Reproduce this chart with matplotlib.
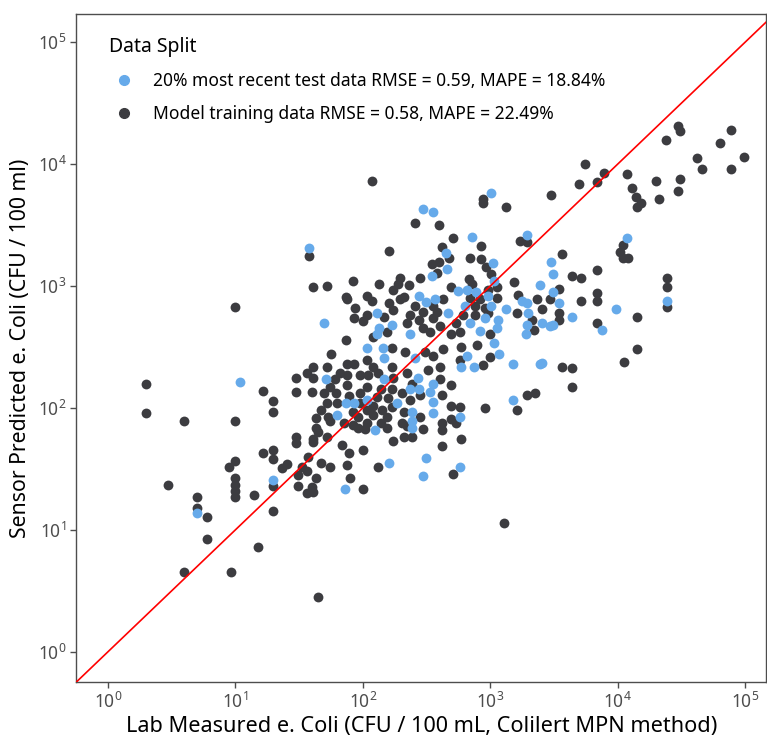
import numpy as np
import matplotlib
matplotlib.use("Agg")
from matplotlib import pyplot as plt
from matplotlib.lines import Line2D

plt.rcParams['font.family'] = ['Noto Sans', 'DejaVu Sans']
plt.rcParams['mathtext.default'] = 'regular'

# log10 values: lab measured (x) and sensor predicted (y)
test_log_lab = [1.04, 0.70, 1.58, 1.70, 2.11, 2.13, 2.23, 2.11,
                2.03, 2.16, 2.17, 1.71, 2.17, 2.03, 2.27, 1.87, 1.93, 1.80, 2.10, 2.21, 1.30,
                2.47, 2.55, 2.86, 3.29, 2.65, 3.02, 2.66, 2.54, 3.03, 2.75, 2.82, 2.89, 2.44,
                2.57, 2.50, 2.98, 3.25, 3.29, 2.80, 3.01, 3.12, 2.67, 3.30, 2.96, 3.06, 2.84,
                3.29, 2.92, 3.05, 2.37, 3.28,
                3.03, 3.07, 2.82, 2.41, 2.77, 2.87, 3.18, 3.39, 2.43, 2.55, 2.37, 2.44, 2.53,
                3.18, 2.55, 2.39, 2.55, 2.76, 2.39, 2.39, 2.50, 2.76, 2.47,
                4.07, 3.48, 3.49, 3.39, 3.49, 3.54, 4.39, 3.99,
                3.41, 3.47, 3.49, 3.64, 3.88, 3.41, 3.01, 1.86]
test_log_pred = [2.21, 1.14, 3.31, 2.70, 2.78, 2.66, 2.68, 2.61,
                 2.49, 2.49, 2.41, 2.24, 2.24, 2.07, 2.04, 2.04, 2.04, 1.94, 1.82, 1.55, 1.41,
                 3.63, 3.61, 3.40, 3.42, 3.27, 3.19, 3.14, 3.08, 3.04, 2.96, 2.97, 2.95, 2.92,
                 2.89, 2.87, 2.92, 2.88, 2.86, 2.84, 2.84, 2.81, 2.78, 2.78, 2.74, 2.72, 2.70,
                 2.68, 2.63, 2.66, 2.61, 2.61,
                 2.53, 2.44, 2.43, 2.41, 2.34, 2.34, 2.36, 2.36, 2.25, 2.20, 2.16, 2.16, 2.13,
                 2.07, 2.05, 1.97, 1.96, 1.93, 1.89, 1.84, 1.59, 1.52, 1.44,
                 3.39, 3.20, 3.10, 3.01, 2.95, 2.86, 2.88, 2.81,
                 2.70, 2.67, 2.68, 2.75, 2.64, 2.37, 3.76, 1.34]

train_log_lab = [0.30, 0.30, 1.22, 0.60, 1.00, 1.22, 1.00, 0.95, 1.00, 1.00, 1.00, 1.00,
                 0.47, 1.15, 0.70, 0.70, 0.78, 0.78, 1.18, 0.60, 0.97, 1.00, 1.65, 3.11,
                 1.58, 2.21, 1.61, 1.72, 1.92, 2.13, 2.28, 2.24, 1.87, 1.88, 2.03, 2.07,
                 1.94, 2.21, 2.29, 2.03, 1.93, 2.00, 2.17, 2.24, 2.19, 2.08, 1.87,
                 2.23, 1.75, 2.03, 2.08, 1.61, 1.72, 1.88, 1.93, 2.23, 1.56, 1.48, 1.61,
                 1.82, 1.78, 1.88, 1.98, 2.04, 2.12, 2.24, 1.74, 1.88, 2.03, 2.14, 2.23,
                 1.48, 1.60, 1.70, 1.79, 1.89, 1.98, 2.11, 2.20, 1.30, 1.80, 1.72, 1.98,
                 2.08, 2.23, 1.67, 1.30, 1.92, 2.03, 2.15, 1.73, 1.63, 1.96, 2.08, 2.19,
                 1.74, 1.85, 1.92, 2.03, 2.14, 1.63, 1.96, 2.02, 1.65, 2.19, 1.48, 1.61,
                 1.72, 1.48, 1.61, 2.24, 1.84, 1.30, 1.89, 2.00, 1.57, 1.30, 1.67, 1.74,
                 1.88, 2.12, 1.41, 1.37, 1.52, 1.56, 1.49, 1.63, 1.90,
                 2.94, 3.12, 2.41, 2.60, 2.71, 3.23, 3.29, 2.93, 2.62, 2.68, 2.60, 2.84,
                 2.93, 2.54, 2.97, 2.58, 3.01, 2.45, 2.29, 2.83, 3.19, 3.05, 2.86, 2.36,
                 2.69, 2.98, 3.22, 2.32, 2.63, 2.84, 2.92, 3.05, 3.37, 2.41, 2.55, 2.88,
                 2.96, 2.37, 2.47, 2.58, 2.79, 2.88, 2.98, 3.21, 2.35, 2.44, 2.55, 2.73,
                 3.33, 2.61, 2.47, 2.53, 2.69, 2.76, 3.00, 3.34,
                 2.77, 2.90, 3.00, 2.63, 2.55, 2.33, 2.49, 2.76, 2.94, 2.61, 2.51, 2.35,
                 2.61, 2.39, 2.69, 2.31, 2.45, 2.62, 3.29, 3.35, 2.37, 2.69, 2.76, 2.96,
                 3.21, 2.32, 2.45, 2.69, 2.73, 2.31, 2.62, 2.35, 2.47, 2.62, 2.32, 2.39,
                 2.77, 2.62, 2.71,
                 3.48, 3.74, 3.70, 3.84, 3.89, 4.07, 4.11, 4.14, 4.18, 4.15, 4.30, 4.32,
                 4.38, 4.47, 4.49, 4.47, 4.49, 4.62, 4.66, 4.80, 4.89, 4.89, 4.99, 4.04,
                 4.02, 4.04, 4.08, 3.56, 3.64, 3.71, 3.84, 3.54, 3.84, 3.47, 3.71, 3.84,
                 4.39, 4.39, 4.39,
                 3.41, 3.54, 3.54, 4.15, 3.84, 4.15, 4.05, 3.56, 3.64, 3.64,
                 2.07, 2.94,
                 1.30, 1.49, 1.56, 1.60, 1.61, 2.00, 1.30]
train_log_pred = [2.20, 1.96, 2.14, 1.89, 1.89, 1.63, 1.57, 1.52, 1.43, 1.37, 1.32, 1.27,
                  1.37, 1.29, 1.27, 1.18, 1.11, 0.93, 0.86, 0.66, 0.66, 2.83, 0.45, 1.06,
                  3.25, 3.29, 2.99, 3.00, 3.04, 3.02, 3.02, 2.97, 2.91, 2.89, 2.92, 2.88,
                  2.82, 2.86, 2.89, 2.76, 2.74, 2.71, 2.75, 2.80, 2.62, 2.58, 2.56,
                  2.49, 2.44, 2.39, 2.34, 2.34, 2.34, 2.36, 2.36, 2.34, 2.29, 2.25, 2.25,
                  2.29, 2.24, 2.27, 2.27, 2.27, 2.29, 2.25, 2.17, 2.19, 2.17, 2.16, 2.16,
                  2.13, 2.13, 2.12, 2.12, 2.10, 2.12, 2.09, 2.08, 2.06, 2.04, 2.04, 2.04,
                  2.02, 2.01, 1.98, 1.97, 1.97, 1.98, 1.98, 1.93, 1.92, 1.93, 1.94, 1.93,
                  1.89, 1.88, 1.86, 1.88, 1.88, 1.84, 1.84, 1.83, 1.80, 1.84, 1.76, 1.75,
                  1.76, 1.71, 1.72, 1.73, 1.70, 1.66, 1.63, 1.66, 1.60, 1.58, 1.55, 1.52,
                  1.53, 1.52, 1.54, 1.51, 1.52, 1.48, 1.45, 1.43, 1.43,
                  3.68, 3.65, 3.52, 3.50, 3.39, 3.37, 3.36, 3.33, 3.32, 3.23, 3.20, 3.23,
                  3.22, 3.18, 3.16, 3.11, 3.10, 3.07, 3.07, 3.06, 3.03, 2.99, 3.02, 3.01,
                  2.99, 2.97, 2.93, 2.91, 2.89, 2.90, 2.89, 2.90, 2.89, 2.84, 2.84, 2.84,
                  2.82, 2.76, 2.79, 2.79, 2.76, 2.76, 2.78, 2.78, 2.70, 2.72, 2.74, 2.70,
                  2.72, 2.67, 2.66, 2.62, 2.61, 2.62, 2.61, 2.64,
                  2.50, 2.52, 2.42, 2.48, 2.43, 2.46, 2.46, 2.39, 2.35, 2.34, 2.31, 2.29,
                  2.24, 2.20, 2.19, 2.12, 2.11, 2.11, 2.11, 2.12, 2.07, 2.02, 2.01, 2.00,
                  1.98, 1.97, 1.93, 1.91, 1.88, 1.88, 1.88, 1.85, 1.83, 1.82, 1.76, 1.76,
                  1.75, 1.69, 1.46,
                  3.75, 4.00, 3.84, 3.85, 3.93, 3.92, 3.80, 3.73, 3.68, 3.65, 3.86, 3.71,
                  4.20, 4.31, 4.27, 3.78, 3.88, 4.05, 3.96, 4.17, 4.28, 3.96, 4.06, 3.34,
                  3.28, 3.23, 3.23, 3.26, 3.08, 3.07, 3.13, 2.98, 2.94, 2.89, 2.88, 2.88,
                  3.07, 2.99, 2.83,
                  2.81, 2.78, 2.72, 2.75, 2.70, 2.48, 2.38, 2.34, 2.33, 2.17,
                  3.86, 3.71,
                  1.36, 1.36, 1.30, 1.35, 1.31, 1.34, 1.16]

legend_title = "Data Split"
test_label = "20% most recent test data RMSE = 0.59, MAPE = 18.84%"
train_label = "Model training data RMSE = 0.58, MAPE = 22.49%"

TEST_COLOR = '#66aaea'
TRAIN_COLOR = '#3c3c40'
GREY = '#4d4d4d'

fig = plt.figure(figsize=(7.67, 7.39), dpi=100)
ax = fig.add_axes([0.0997, 0.0771, 0.8990, 0.9039])

ax.scatter(10 ** np.array(train_log_lab), 10 ** np.array(train_log_pred),
           s=50, color=TRAIN_COLOR, linewidths=0, zorder=2)
ax.scatter(10 ** np.array(test_log_lab), 10 ** np.array(test_log_pred),
           s=50, color=TEST_COLOR, linewidths=0, zorder=3)

ax.set_xscale('log')
ax.set_yscale('log')
ax.set_xlim(10 ** -0.245, 10 ** 5.163)
ax.set_ylim(10 ** -0.246, 10 ** 5.23)
ax.axline((1, 1), (10, 10), color='red', lw=1.2, zorder=4)

ax.set_xticks([10 ** k for k in range(6)])
ax.set_yticks([10 ** k for k in range(6)])
ax.minorticks_off()
ax.tick_params(axis='both', which='major', length=4, width=1.0, color=GREY,
               labelcolor=GREY, labelsize=12.5, pad=3)
for side in ['left', 'bottom', 'top', 'right']:
    ax.spines[side].set_color(GREY)
    ax.spines[side].set_linewidth(1.0)

ax.set_xlabel("Lab Measured e. Coli (CFU / 100 mL, Colilert MPN method)",
              fontsize=15.6, color='black', labelpad=3)
ax.set_ylabel("Sensor Predicted e. Coli (CFU / 100 ml)",
              fontsize=15.3, color='black', labelpad=5)

handles = [Line2D([], [], marker='o', ls='', color=TEST_COLOR, markersize=7),
           Line2D([], [], marker='o', ls='', color=TRAIN_COLOR, markersize=7)]
leg = ax.legend(handles, [test_label, train_label], title=legend_title,
                loc='upper left', bbox_to_anchor=(0.02, 0.995), frameon=False,
                fontsize=12.55, title_fontsize=14, handletextpad=0.8,
                handlelength=1.7, labelspacing=0.88, borderpad=0.6)
leg._legend_box.align = 'left'

fig.savefig('out.png', dpi=100)
